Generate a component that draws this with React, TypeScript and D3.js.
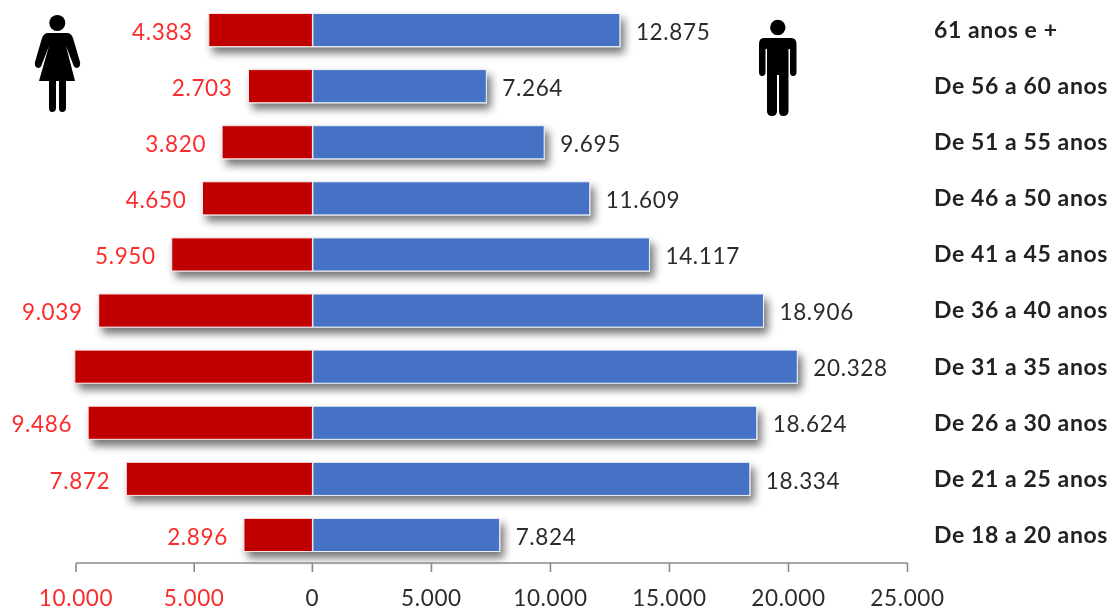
import React from "react";
import * as d3 from "d3";

const categories = ["61 anos e +","De 56 a 60 anos","De 51 a 55 anos","De 46 a 50 anos","De 41 a 45 anos","De 36 a 40 anos","De 31 a 35 anos","De 26 a 30 anos","De 21 a 25 anos","De 18 a 20 anos"];
const women = [4383,2703,3820,4650,5950,9039,10050,9486,7872,2896];
const womenLabels = ["4.383","2.703","3.820","4.650","5.950","9.039","","9.486","7.872","2.896"];
const men = [12875,7264,9695,11609,14117,18906,20328,18624,18334,7824];
const menLabels = ["12.875","7.264","9.695","11.609","14.117","18.906","20.328","18.624","18.334","7.824"];
const ticks = [-10000,-5000,0,5000,10000,15000,20000,25000];
const tickLabels = ["10.000","5.000","0","5.000","10.000","15.000","20.000","25.000"];

const W = 1112, H = 608;
const x = d3.scaleLinear().domain([-10000,0,25000]).range([76,312.4,907.5]);
const y = d3.scaleBand<string>().domain(categories).range([2,563]).paddingInner(0.41).paddingOuter(0.205);
const FONT = "Lato, Carlito, sans-serif";
const RED = "#fb2c2c", DARK = "#2b2b2b";

export default function App() {
  const band = y.bandwidth();
  const axisY = 563;
  return (
    <svg width={W} height={H} viewBox={`0 0 ${W} ${H}`} style={{position:"absolute",left:0,top:0,background:"#fff"}} fontFamily={FONT}>
      <defs>
        <filter id="sh" x="-10%" y="-30%" width="120%" height="190%">
          <feGaussianBlur in="SourceAlpha" stdDeviation="4" />
          <feOffset dx="4" dy="6" />
          <feComponentTransfer><feFuncA type="linear" slope="0.55" /></feComponentTransfer>
          <feMerge><feMergeNode /><feMergeNode in="SourceGraphic" /></feMerge>
        </filter>
      </defs>
      <g filter="url(#sh)">
        {categories.map((c,i)=>(
          <g key={c}>
            <rect x={x(-women[i])} y={y(c)} width={x(0)-x(-women[i])} height={band} fill="#c00000" stroke="#f8e6e6" strokeWidth={1}/>
            <rect x={x(0)+0.5} y={y(c)} width={x(men[i])-x(0)+0.5} height={band} fill="#4472c4" stroke="#eef2f9" strokeWidth={1}/>
          </g>
        ))}
      </g>
      <g style={{filter:"blur(0.35px)"}}>
        {categories.map((c,i)=>{
          const cy = y(c)!+band/2+4;
          return (
            <g key={c} fontSize={22.5} letterSpacing={0.65}>
              {womenLabels[i] && <text x={x(-women[i])-16} y={cy} textAnchor="end" dominantBaseline="middle" fill={RED}>{womenLabels[i]}</text>}
              <text x={x(men[i])+17} y={cy} dominantBaseline="middle" fill={DARK}>{menLabels[i]}</text>
              <text x={934} y={cy-2} dominantBaseline="middle" fontWeight={700} fontSize={23} letterSpacing={0.6} fill="#222">{c}</text>
            </g>
          );
        })}
        <g stroke="#8a8a8a" strokeWidth={1.6} fill="none">
          <line x1={x(-10000)} x2={x(25000)} y1={axisY} y2={axisY}/>
          {ticks.map(t=><line key={t} x1={x(t)} x2={x(t)} y1={axisY} y2={axisY+9}/>)}
        </g>
        {ticks.map((t,i)=>(
          <text key={t} x={x(t)} y={606} textAnchor="middle" fontSize={22.5} letterSpacing={0.65} fill={t<0?RED:DARK}>{tickLabels[i]}</text>
        ))}
        <g fill="#000">
          <circle cx={57.3} cy={23} r={8}/>
          <path d="M48 33H67Q71 33 73 38L80 62Q81 67 77 68Q74 68 73 64L66 46L75 81H66V108Q66 112 62 112Q59 112 59 108V81H56V108Q56 112 52 112Q49 112 49 108V81H39L49 46L42 64Q41 68 38 68Q34 67 35 62L42 38Q44 33 48 33Z"/>
          <circle cx={777.8} cy={27.5} r={7.7}/>
          <path d="M764 38H791Q796.5 38 796.5 44V72Q796.5 76 793 76Q790 76 790 72V49H788.5V111Q788.5 116 783 116Q779 116 779 111V75H777V111Q777 116 772 116Q767 116 767 111V49H765.5V72Q765.5 76 762 76Q759 76 759 72V44Q759 38 764 38Z"/>
        </g>
      </g>
    </svg>
  );
}
